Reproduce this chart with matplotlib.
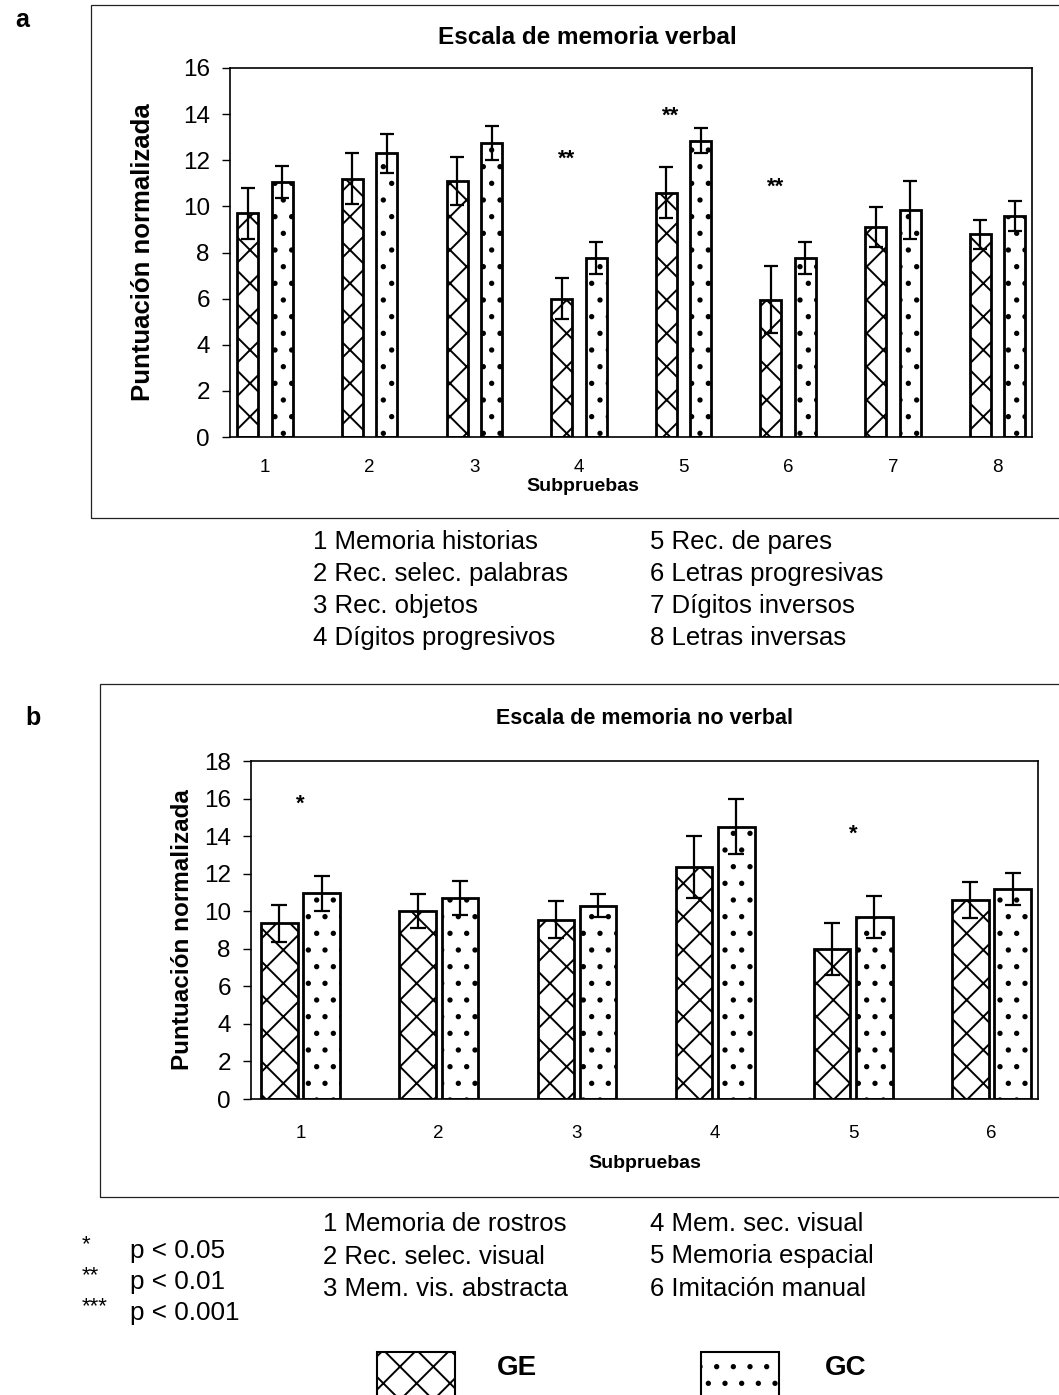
import numpy as np
import matplotlib
matplotlib.use("Agg")
import matplotlib.pyplot as plt
from matplotlib.patches import Rectangle

plt.rcParams['font.family'] = ['Liberation Sans', 'DejaVu Sans']
plt.rcParams['hatch.linewidth'] = 1.4
plt.rcParams['hatch.color'] = 'black'

# Escala de memoria verbal
verbal_subpruebas = ['1', '2', '3', '4', '5', '6', '7', '8']
verbal_ge = [9.7, 11.2, 11.1, 6.0, 10.6, 5.95, 9.1, 8.8]
verbal_ge_err = [1.1, 1.1, 1.05, 0.9, 1.1, 1.45, 0.87, 0.63]
verbal_gc = [11.05, 12.3, 12.75, 7.75, 12.85, 7.75, 9.85, 9.6]
verbal_gc_err = [0.7, 0.85, 0.75, 0.7, 0.55, 0.7, 1.25, 0.65]
verbal_sig = {3: '**', 4: '**', 5: '**'}
verbal_sig_y = {3: 12.05, 4: 13.9, 5: 10.85}
verbal_nombres = ['1 Memoria historias', '2 Rec. selec. palabras', '3 Rec. objetos',
                  '4 Dígitos progresivos', '5 Rec. de pares', '6 Letras progresivas',
                  '7 Dígitos inversos', '8 Letras inversas']

# Escala de memoria no verbal
noverbal_subpruebas = ['1', '2', '3', '4', '5', '6']
noverbal_ge = [9.35, 10.0, 9.55, 12.35, 8.0, 10.6]
noverbal_ge_err = [1.0, 0.9, 0.97, 1.65, 1.38, 0.95]
noverbal_gc = [10.95, 10.7, 10.3, 14.5, 9.7, 11.2]
noverbal_gc_err = [0.95, 0.92, 0.6, 1.45, 1.1, 0.85]
noverbal_sig = {0: '*', 4: '*'}
noverbal_sig_y = {0: 15.7, 4: 14.1}
noverbal_nombres = ['1 Memoria de rostros', '2 Rec. selec. visual', '3 Mem. vis. abstracta',
                    '4 Mem. sec. visual', '5 Memoria espacial', '6 Imitación manual']

notas_p = [('*', 'p < 0.05'), ('**', 'p < 0.01'), ('***', 'p < 0.001')]

W, H = 1059, 1395
fig = plt.figure(figsize=(W / 100, H / 100), dpi=100)


def fx(px):
    return px / W


def fy(py):
    return 1 - py / H


def panel(rect, cats, ge, ge_err, gc, gc_err, sig, sig_y, ymax, width, off,
          xlim, cap, star_dx, tick_pad, titulo, title_xy, title_fs, sub_xy,
          ylab_x, ylab_fs):
    ax = fig.add_axes(rect)
    x = np.arange(len(cats))
    ax.bar(x - off, ge, width, color='white', edgecolor='black',
           linewidth=2.0, hatch='x', zorder=2)
    ax.bar(x + off, gc, width, color='white', edgecolor='black',
           linewidth=2.0, hatch='.', zorder=2)
    ax.errorbar(x - off, ge, yerr=ge_err, fmt='none', ecolor='black',
                elinewidth=1.6, capsize=cap, capthick=1.6, zorder=3)
    ax.errorbar(x + off, gc, yerr=gc_err, fmt='none', ecolor='black',
                elinewidth=1.6, capsize=cap, capthick=1.6, zorder=3)
    for i, s in sig.items():
        ax.text(i + star_dx, sig_y[i], s, ha='center', va='center',
                fontsize=16, fontweight='bold')
    ax.set_xlim(*xlim)
    ax.set_ylim(0, ymax)
    ax.set_yticks(np.arange(0, ymax + 1, 2))
    ax.set_xticks(x)
    ax.set_xticklabels(cats, fontsize=13.5)
    ax.tick_params(axis='x', length=0, pad=tick_pad)
    ax.tick_params(axis='y', direction='out', length=5.5, width=1.0,
                   labelsize=17.5, pad=9)
    for sp in ax.spines.values():
        sp.set_linewidth(1.2)
    ax.set_ylabel('Puntuación normalizada', fontsize=ylab_fs, fontweight='bold')
    ax.yaxis.set_label_coords(ylab_x, 0.5)
    fig.text(fx(title_xy[0]), fy(title_xy[1]), titulo, ha='center', va='center',
             fontsize=title_fs, fontweight='bold')
    fig.text(fx(sub_xy[0]), fy(sub_xy[1]), 'Subpruebas', ha='center',
             va='center', fontsize=14, fontweight='bold')
    return ax


# panel a
panel([fx(230), fy(437), fx(1032) - fx(230), fy(68) - fy(437)],
      verbal_subpruebas, verbal_ge, verbal_ge_err, verbal_gc, verbal_gc_err,
      verbal_sig, verbal_sig_y, 16, 0.2, 0.165, (-0.335, 7.33), 5, -0.12, 16,
      'Escala de memoria verbal', (587, 38), 17.5, (583, 487), -0.094, 18.5)
fig.add_artist(Rectangle((fx(91), fy(518)), fx(1080) - fx(91), fy(5) - fy(518),
                         transform=fig.transFigure, fill=False,
                         edgecolor='#222222', linewidth=0.9))
fig.text(fx(15), fy(20), 'a', fontsize=18, fontweight='bold', va='center')

# panel b
panel([fx(251), fy(1099), fx(1038) - fx(251), fy(761) - fy(1099)],
      noverbal_subpruebas, noverbal_ge, noverbal_ge_err, noverbal_gc,
      noverbal_gc_err, noverbal_sig, noverbal_sig_y, 18, 0.264, 0.153,
      (-0.358, 5.336), 6, 0.0, 19,
      'Escala de memoria no verbal', (645, 718), 15.5, (645, 1163), -0.073, 17.5)
fig.add_artist(Rectangle((fx(100), fy(1197)), fx(1080) - fx(100), fy(684) - fy(1197),
                         transform=fig.transFigure, fill=False,
                         edgecolor='#222222', linewidth=0.9))
fig.text(fx(25), fy(718), 'b', fontsize=18, fontweight='bold', va='center')

# nombres de subpruebas
for k, nombre in enumerate(verbal_nombres):
    col, fila = divmod(k, 4)
    fig.text(fx([313, 650][col]), fy(542 + 32 * fila), nombre,
             fontsize=18.5, va='center')
for k, nombre in enumerate(noverbal_nombres):
    col, fila = divmod(k, 3)
    fig.text(fx([323, 650][col]), fy(1224 + 32.5 * fila), nombre,
             fontsize=18.5, va='center')

# niveles de significación
for k, (s, p) in enumerate(notas_p):
    fig.text(fx(82), fy(1245 + 31 * k), s, fontsize=16, va='center')
    fig.text(fx(130), fy(1251 + 31 * k), p, fontsize=18.8, va='center')

# leyenda de grupos
for x0, hatch, etiqueta, xt in [(377, 'x', 'GE', 497), (701, '.', 'GC', 825)]:
    fig.add_artist(Rectangle((fx(x0), fy(1400)), fx(78), fy(1352) - fy(1400),
                             transform=fig.transFigure, facecolor='white',
                             edgecolor='black', linewidth=1.5, hatch=hatch))
    fig.text(fx(xt), fy(1368), etiqueta, fontsize=20, fontweight='bold',
             va='center')

fig.savefig('out.png', dpi=100)
